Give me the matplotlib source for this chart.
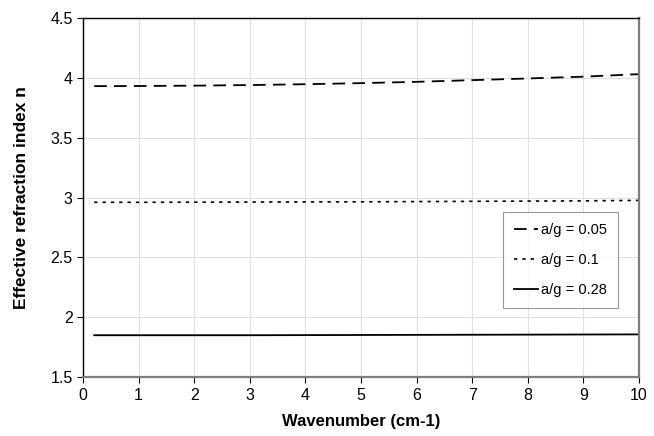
import matplotlib
matplotlib.use("Agg")
import matplotlib.pyplot as plt

plt.rcParams['font.family'] = ['Liberation Sans', 'DejaVu Sans']

# wavenumber (cm-1) and effective index for three a/g ratios
wavenumber = [0.2, 1, 2, 3, 4, 5, 6, 7, 8, 9, 10]
n_005 = [3.930, 3.931, 3.934, 3.939, 3.946, 3.955, 3.966, 3.980, 3.994, 4.009, 4.030]
n_01 = [2.960, 2.960, 2.961, 2.962, 2.963, 2.964, 2.966, 2.968, 2.970, 2.972, 2.976]
n_028 = [1.850, 1.850, 1.850, 1.850, 1.851, 1.852, 1.853, 1.854, 1.855, 1.856, 1.857]
labels = ["a/g = 0.05", "a/g = 0.1", "a/g = 0.28"]

fig = plt.figure(figsize=(6.54, 4.36), dpi=100)
ax = fig.add_axes([0.127, 0.135, 0.85, 0.824])

ax.plot(wavenumber, n_005, color='black', lw=1.3, ls=(0, (7, 4)), label=labels[0])
ax.plot(wavenumber, n_01, color='black', lw=1.2, ls=(0, (2, 3)), label=labels[1])
ax.plot(wavenumber, n_028, color='black', lw=1.3, ls='-', label=labels[2])

ax.set_xlim(0, 10)
ax.set_ylim(1.5, 4.5)
ax.set_xticks(range(0, 11))
ax.set_yticks([1.5, 2, 2.5, 3, 3.5, 4, 4.5])
ax.set_yticklabels(["1.5", "2", "2.5", "3", "3.5", "4", "4.5"])
ax.grid(True, color='#e0e0e0', lw=0.8)
ax.set_axisbelow(True)
ax.tick_params(direction='out', length=4, width=0.8, labelsize=11.5, pad=3.5)

for side in ['left', 'top']:
    ax.spines[side].set_color('black')
    ax.spines[side].set_linewidth(1.0)
for side in ['right', 'bottom']:
    ax.spines[side].set_color('#7f7f7f')
    ax.spines[side].set_linewidth(1.6)

ax.set_xlabel("Wavenumber (cm-1)", fontsize=12, fontweight='bold', labelpad=8)
ax.set_ylabel("Effective refraction index n", fontsize=12.5, fontweight='bold', labelpad=15)

leg = ax.legend(loc='upper left', bbox_to_anchor=(0.755, 0.46), fontsize=10.5,
                frameon=True, fancybox=False, edgecolor='#7f7f7f',
                handlelength=1.65, handletextpad=0.2, labelspacing=1.1,
                borderpad=0.75, borderaxespad=0)
leg.get_frame().set_linewidth(0.8)

fig.savefig("out.png", dpi=100)
